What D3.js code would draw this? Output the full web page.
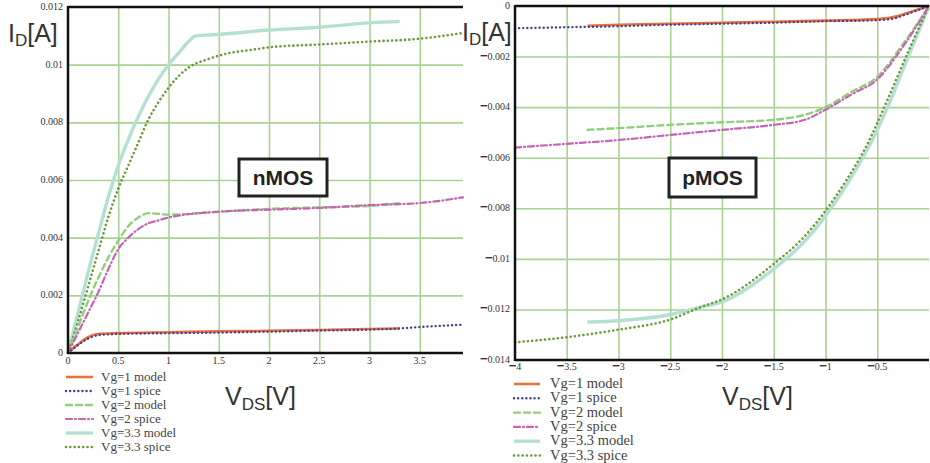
<!DOCTYPE html>
<html>
<head>
<meta charset="utf-8">
<script src="https://cdn.jsdelivr.net/npm/d3@7"></script>
<style>
	body { margin: 0; background: #fff; }
	svg { display: block; }
	.tick-label { font-family: "Liberation Serif", "DejaVu Serif", serif; font-size: 10px; fill: #333; }
	.legend-text { font-family: "Liberation Serif", serif; fill: #444; }
	.axis-title { font-family: "Liberation Sans", Arial, sans-serif; fill: #333; }
</style>
</head>
<body>
<div id="chart"></div>
<script>
// legend names, same order in both panels
var seriesNames = ["Vg=1 model", "Vg=1 spice", "Vg=2 model", "Vg=2 spice", "Vg=3.3 model", "Vg=3.3 spice"];

// nMOS  [Vds (V), Id (A)]
var nVg1Model = [[0,0],[0.1,0.0003],[0.2,0.00055],[0.3,0.00066],[0.5,0.00069],[1,0.00072],[1.5,0.00075],[2,0.00077],[2.5,0.0008],[3,0.00083],[3.3,0.00085]];
var nVg1Spice = [[0,0],[0.1,0.00028],[0.2,0.0005],[0.3,0.00062],[0.5,0.00066],[1,0.00069],[1.5,0.00071],[2,0.00074],[2.5,0.00078],[3,0.00081],[3.3,0.00085],[3.5,0.0009],[3.93,0.00098]];
var nVg2Model = [[0,0],[0.1,0.0009],[0.2,0.0018],[0.3,0.0026],[0.4,0.0033],[0.5,0.0039],[0.6,0.0044],[0.7,0.0047],[0.8,0.00485],[1,0.0048],[1.5,0.0049],[2,0.005],[2.5,0.00505],[3,0.0051],[3.3,0.0052]];
var nVg2Spice = [[0,0],[0.1,0.0007],[0.2,0.0014],[0.3,0.0021],[0.4,0.0029],[0.5,0.0036],[0.6,0.004],[0.7,0.0043],[0.8,0.0045],[0.9,0.0046],[1,0.0047],[1.5,0.0049],[2,0.00497],[2.5,0.00503],[3,0.00513],[3.5,0.0052],[3.93,0.0054]];
var nVg33Model = [[0,0],[0.1,0.0014],[0.2,0.0028],[0.3,0.0041],[0.4,0.0054],[0.5,0.0065],[0.6,0.0074],[0.7,0.0082],[0.8,0.0089],[0.9,0.0095],[1,0.01],[1.1,0.0104],[1.2,0.0108],[1.27,0.011],[1.5,0.01105],[2,0.0112],[2.5,0.0113],[3,0.01145],[3.3,0.0115]];
var nVg33Spice = [[0,0],[0.1,0.0011],[0.2,0.0023],[0.3,0.0035],[0.4,0.0047],[0.5,0.0057],[0.6,0.0065],[0.7,0.0073],[0.8,0.0081],[0.9,0.0087],[1,0.0092],[1.2,0.0099],[1.4,0.0102],[1.6,0.0104],[1.8,0.0105],[2,0.0106],[2.5,0.0107],[3,0.0108],[3.5,0.0109],[3.93,0.0111]];

// pMOS  [Vds (V), Id (A)]
var pVg1Model = [[-3.3,-0.00078],[-3,-0.00074],[-2.5,-0.0007],[-2,-0.00066],[-1.5,-0.00062],[-1,-0.00058],[-0.5,-0.00052],[-0.3,-0.0004],[-0.15,-0.0002],[0,0]];
var pVg1Spice = [[-4,-0.00088],[-3.5,-0.00084],[-3,-0.0008],[-2.5,-0.00074],[-2,-0.0007],[-1.5,-0.00066],[-1,-0.0006],[-0.5,-0.00056],[-0.35,-0.0005],[-0.2,-0.0003],[0,0]];
var pVg2Model = [[-3.3,-0.0049],[-3,-0.00483],[-2.5,-0.0047],[-2,-0.0046],[-1.5,-0.0045],[-1.2,-0.0043],[-1,-0.004],[-0.75,-0.0034],[-0.5,-0.0028],[-0.25,-0.0015],[0,0]];
var pVg2Spice = [[-4,-0.0056],[-3.5,-0.00545],[-3,-0.0053],[-2.5,-0.0051],[-2,-0.0049],[-1.5,-0.0047],[-1.2,-0.0045],[-1,-0.0041],[-0.75,-0.0035],[-0.5,-0.0029],[-0.25,-0.0016],[0,0]];
var pVg33Model = [[-3.3,-0.0125],[-3,-0.01245],[-2.5,-0.0122],[-2.2,-0.0119],[-2,-0.0117],[-1.5,-0.0104],[-1.2,-0.0093],[-1,-0.0083],[-0.8,-0.0071],[-0.6,-0.0057],[-0.5,-0.0049],[-0.4,-0.004],[-0.2,-0.002],[0,0]];
var pVg33Spice = [[-4,-0.0133],[-3.5,-0.0131],[-3,-0.0128],[-2.5,-0.0124],[-2.2,-0.0119],[-2,-0.0116],[-1.5,-0.0102],[-1.2,-0.0091],[-1,-0.0081],[-0.8,-0.0069],[-0.6,-0.0055],[-0.4,-0.0037],[-0.2,-0.0018],[0,0]];

// tick values
var nXTicks = [0, 0.5, 1, 1.5, 2, 2.5, 3, 3.5];
var nYTicks = [0, 0.002, 0.004, 0.006, 0.008, 0.01, 0.012];
var pXTicks = [-4, -3.5, -3, -2.5, -2, -1.5, -1, -0.5];
var pYTicks = [0, -0.002, -0.004, -0.006, -0.008, -0.01, -0.012, -0.014];

var styles = [
	{color: "#e9733f", width: 2.6, dash: null},
	{color: "#4e3f8f", width: 2.4, dash: "0.1,4"},
	{color: "#92cf7c", width: 2.4, dash: "6,4"},
	{color: "#c862b6", width: 2.2, dash: "6,3,1,3"},
	{color: "#b4e0d2", width: 3.4, dash: null},
	{color: "#6e9b3c", width: 2.6, dash: "0.1,4.2"}
];

var svg = d3.select("#chart").append("svg")
	.attr("width", 930)
	.attr("height", 463);

function num(d) {
	return String(+Math.abs(d).toFixed(4));
}

function drawPanel(cfg) {
	var x = d3.scaleLinear().domain(cfg.xDomain).range(cfg.xRange);
	var y = d3.scaleLinear().domain(cfg.yDomain).range(cfg.yRange);
	var g = svg.append("g");
	var x0 = cfg.xRange[0], x1 = cfg.xRange[1];
	var yTop = Math.min(cfg.yRange[0], cfg.yRange[1]), yBot = Math.max(cfg.yRange[0], cfg.yRange[1]);

	// grid
	g.append("g")
		.attr("transform", "translate(0," + yBot + ")")
		.call(d3.axisBottom(x).tickValues(cfg.xTicks.filter(function(d) { return x(d) > x0 + 2; })).tickSize(-(yBot - yTop)).tickFormat(""))
		.call(function(s) {
			s.select(".domain").remove();
			s.selectAll("line").attr("stroke", "#a9d293").attr("stroke-width", 1.6);
		});
	g.append("g")
		.attr("transform", "translate(" + x0 + ",0)")
		.call(d3.axisLeft(y).tickValues(cfg.yTicks.filter(function(d) { return y(d) > yTop + 2 && y(d) < yBot - 2; })).tickSize(-(x1 - x0)).tickFormat(""))
		.call(function(s) {
			s.select(".domain").remove();
			s.selectAll("line").attr("stroke", "#a9d293").attr("stroke-width", 1.6);
		});

	// curves
	var line = d3.line()
		.x(function(d) { return x(d[0]); })
		.y(function(d) { return y(d[1]); })
		.curve(d3.curveMonotoneX);
	var order = cfg.drawOrder || [0, 1, 2, 3, 4, 5];
	order.forEach(function(i) {
		var st = styles[i];
		g.append("path")
			.datum(cfg.series[i])
			.attr("d", line)
			.attr("fill", "none")
			.attr("stroke", st.color)
			.attr("stroke-width", st.width)
			.attr("stroke-linecap", st.dash ? "round" : "butt")
			.attr("stroke-dasharray", st.dash);
	});

	// black frame (left, top, bottom)
	g.append("line").attr("x1", x0).attr("x2", x0).attr("y1", yTop - 1).attr("y2", yBot + 1)
		.attr("stroke", "#111").attr("stroke-width", 2.5);
	g.append("line").attr("x1", x0).attr("x2", x1).attr("y1", yTop).attr("y2", yTop)
		.attr("stroke", "#111").attr("stroke-width", 2.5);
	g.append("line").attr("x1", x0).attr("x2", x1).attr("y1", yBot).attr("y2", yBot)
		.attr("stroke", "#111").attr("stroke-width", 2.5);

	// tick labels
	g.selectAll(".ytl").data(cfg.yTicks).enter().append("text")
		.attr("class", "tick-label")
		.attr("x", x0 - 5)
		.attr("y", function(d) { return y(d) + 3; })
		.attr("text-anchor", "end")
		.each(function(d) {
			var t = d3.select(this);
			if (d < 0) t.append("tspan").attr("font-family", "Liberation Sans, sans-serif").attr("font-weight", "bold").attr("font-size", 13).text("\u2212");
			t.append("tspan").text(num(d));
		});
	g.selectAll(".xtl").data(cfg.xTicks).enter().append("text")
		.attr("class", "tick-label")
		.attr("x", function(d) { return x(d); })
		.attr("y", yBot + cfg.xLabelDy)
		.attr("text-anchor", "middle")
		.each(function(d) {
			var t = d3.select(this);
			if (d < 0) t.append("tspan").attr("font-family", "Liberation Sans, sans-serif").attr("font-weight", "bold").attr("font-size", 13).text("\u2212");
			t.append("tspan").text(num(d));
		});

	// axis titles
	var it = svg.append("text").attr("class", "axis-title")
		.attr("x", cfg.idPos[0]).attr("y", cfg.idPos[1]).attr("font-size", 25);
	it.append("tspan").text("I");
	it.append("tspan").attr("font-size", 17).attr("dy", 4).text("D");
	it.append("tspan").attr("dy", -4).text("[A]");
	var vt = svg.append("text").attr("class", "axis-title")
		.attr("x", cfg.vdsPos[0]).attr("y", cfg.vdsPos[1]).attr("font-size", 25);
	vt.append("tspan").text("V");
	vt.append("tspan").attr("font-size", 17).attr("dy", 5).text("DS");
	vt.append("tspan").attr("dy", -5).text("[V]");

	// label box
	var b = cfg.box;
	svg.append("rect").attr("x", b.x).attr("y", b.y).attr("width", b.w).attr("height", b.h)
		.attr("fill", "#fff").attr("stroke", "#222").attr("stroke-width", 3);
	svg.append("text")
		.attr("x", b.x + b.w / 2).attr("y", b.y + b.h / 2 + 7)
		.attr("text-anchor", "middle")
		.attr("font-family", "Liberation Sans, Arial, sans-serif")
		.attr("font-weight", "bold")
		.attr("font-size", 21)
		.attr("fill", "#222")
		.text(b.label);

	// legend
	var lg = cfg.legend;
	seriesNames.forEach(function(name, i) {
		var ly = lg.y + i * lg.step;
		var st = styles[i];
		svg.append("line")
			.attr("x1", lg.x).attr("x2", lg.x + lg.len).attr("y1", ly).attr("y2", ly)
			.attr("stroke", st.color).attr("stroke-width", st.width)
			.attr("stroke-linecap", st.dash ? "round" : "butt")
			.attr("stroke-dasharray", st.dash);
		svg.append("text").attr("class", "legend-text")
			.attr("x", lg.x + lg.len + lg.gap).attr("y", ly + 4)
			.attr("font-size", lg.size)
			.text(name);
	});
}

drawPanel({
	xDomain: [0, 3.93], xRange: [68, 463],
	yDomain: [0, 0.012], yRange: [353, 7],
	xTicks: nXTicks, yTicks: nYTicks, xLabelDy: 11,
	series: [nVg1Model, nVg1Spice, nVg2Model, nVg2Spice, nVg33Model, nVg33Spice],
	drawOrder: [4, 5, 2, 3, 0, 1],
	idPos: [8, 42], vdsPos: [225, 405],
	box: {x: 239, y: 159, w: 88, h: 37, label: "nMOS"},
	legend: {x: 66, y: 377, step: 14, len: 27, gap: 8, size: 13}
});

drawPanel({
	xDomain: [-4, 0], xRange: [515, 929],
	yDomain: [-0.014, 0], yRange: [360, 6],
	xTicks: pXTicks, yTicks: pYTicks, xLabelDy: 10,
	series: [pVg1Model, pVg1Spice, pVg2Model, pVg2Spice, pVg33Model, pVg33Spice],
	drawOrder: [4, 5, 2, 3, 0, 1],
	idPos: [462, 41], vdsPos: [722, 405],
	box: {x: 669, y: 158, w: 87, h: 39, label: "pMOS"},
	legend: {x: 514, y: 384, step: 14.3, len: 26, gap: 10, size: 14.5}
});
</script>
</body>
</html>
